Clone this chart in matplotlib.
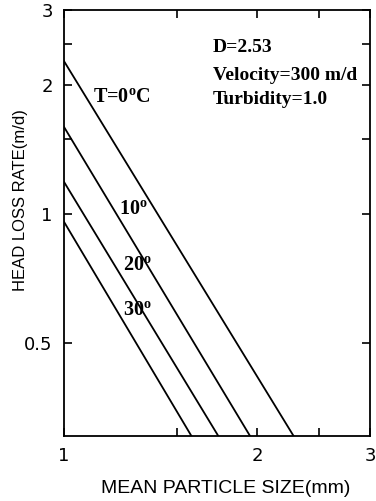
import numpy as np
import matplotlib
matplotlib.use("Agg")
import matplotlib.pyplot as plt
from matplotlib.ticker import FixedLocator, NullFormatter

plt.rcParams["mathtext.fontset"] = "custom"
plt.rcParams["mathtext.rm"] = "Liberation Serif:bold"
plt.rcParams["mathtext.bf"] = "Liberation Serif:bold"

# line endpoints (size mm, head loss m/d)
temps = ["0", "10", "20", "30"]
size_start = [1.0, 1.0, 1.0, 1.0]
size_end = [2.28, 1.95, 1.74, 1.58]
loss_start = [2.28, 1.60, 1.19, 0.96]
loss_end = [0.303, 0.303, 0.303, 0.303]

labels = [r"T=0$^{\mathrm{o}}$C", r"10$^{\mathrm{o}}$", r"20$^{\mathrm{o}}$", r"30$^{\mathrm{o}}$"]
label_x = [1.11, 1.218, 1.236, 1.236]
label_y = [1.866, 1.022, 0.756, 0.593]

params = ["D=2.53", "Velocity=300 m/d", "Turbidity=1.0"]

fig = plt.figure(figsize=(3.76, 5.01), dpi=100)
ax = fig.add_axes([0.170, 0.130, 0.814, 0.850])

for i in range(len(temps)):
    ax.plot([size_start[i], size_end[i]], [loss_start[i], loss_end[i]],
            color="black", lw=1.3)
    ax.text(label_x[i], label_y[i], labels[i], family="Liberation Serif",
            weight="bold", fontsize=14.5, va="center", ha="left")

ys = [0.911, 0.847, 0.789]
for j, s in enumerate(params):
    ax.text(0.487, ys[j], s, transform=ax.transAxes,
            family="Liberation Serif", weight="bold", fontsize=14,
            va="center", ha="left")

ax.set_xscale("log")
ax.set_yscale("log")
ax.set_xlim(1, 3)
ax.set_ylim(0.303, 3)

ax.xaxis.set_major_locator(FixedLocator([1, 2, 3]))
ax.xaxis.set_minor_locator(FixedLocator([1.5, 2.5]))
ax.set_xticklabels(["1", "2", "3"])
ax.xaxis.set_minor_formatter(NullFormatter())
ax.yaxis.set_major_locator(FixedLocator([0.5, 1, 2, 3]))
ax.yaxis.set_minor_locator(FixedLocator([1.5, 2.5]))
ax.set_yticklabels(["0.5", "1", "2", "3"])
ax.yaxis.set_minor_formatter(NullFormatter())

ax.tick_params(which="both", direction="in", top=True, right=True,
               width=1.2, labelsize=13, pad=8)
ax.tick_params(which="major", length=6)
ax.tick_params(which="minor", length=6)
for sp in ax.spines.values():
    sp.set_linewidth(1.3)

ax.set_xlabel("MEAN PARTICLE SIZE(mm)", fontsize=14, family="Liberation Sans")
ax.set_ylabel("HEAD LOSS RATE(m/d)", fontsize=12, family="Liberation Sans")
ax.xaxis.set_label_coords(0.529, -0.104)
ax.yaxis.set_label_coords(-0.118, 0.554)

fig.savefig("out.png", dpi=100)
